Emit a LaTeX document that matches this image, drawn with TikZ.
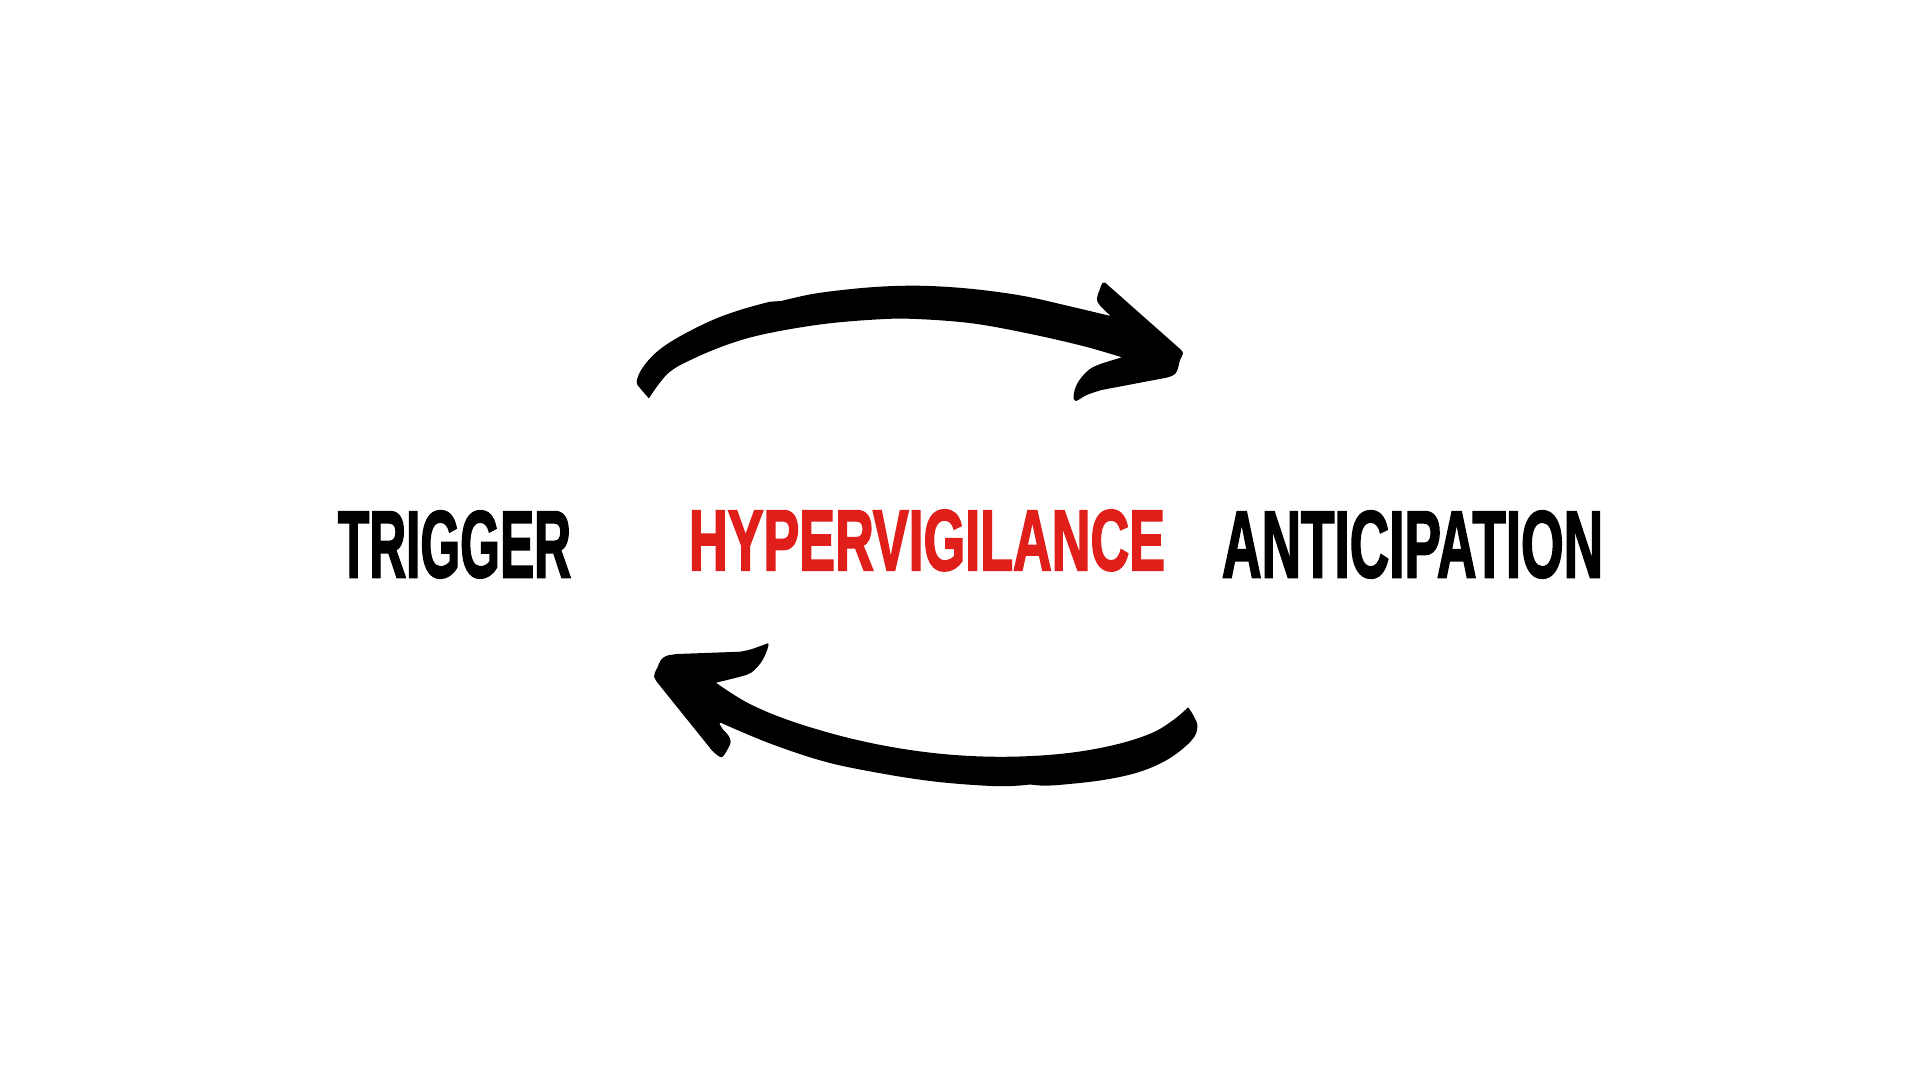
\documentclass[tikz,border=0pt]{standalone}
\usepackage{fontspec}
\usepackage{graphicx}
\setmainfont{Liberation Sans}[BoldFeatures={FakeBold=2.5}]
\definecolor{hvred}{RGB}{224,30,26}
\begin{document}
\begin{tikzpicture}[x=1pt,y=-1pt,
  word/.style={inner sep=0pt,outer sep=0pt,anchor=north west,font=\bfseries},
  brush/.style={fill=black,draw=none}]
\useasboundingbox[fill=white] (0,0) rectangle (1920,1080);
\node[word] (trigger) at (338,511) {\resizebox{233pt}{66pt}{TRIGGER}};
\node[word,text=hvred] (hyper) at (689,510) {\resizebox{476pt}{60pt}{HYPERVIGILANCE}};
\node[word] (antic) at (1222,511) {\resizebox{381pt}{66pt}{ANTICIPATION}};
% top arrow
\fill[brush] (648.9,398.3)
  -- plot[smooth,tension=0.6] coordinates {(648.9,398.3) (640,388) (636.7,381.7) (642.2,368.3) (657.0,351.7) (679.3,336.7) (712.6,320) (742.2,309.3) (770,301.7)}
  -- (781.1,301)
  -- plot[smooth,tension=0.6] coordinates {(781.1,301) (810.7,294.3) (842.2,290) (879.3,286.7) (916.3,285.7) (953.3,287.3) (990.4,291) (1027.4,296.7) (1064.4,305) (1110.7,316)}
  -- plot[smooth,tension=0.6] coordinates {(1110.7,316) (1099.6,305) (1097,298.3) (1099.6,290) (1102.2,283.3) (1105.2,282.7)}
  -- (1179.3,348.3)
  -- plot[smooth,tension=0.6] coordinates {(1179.3,348.3) (1183,353.3) (1180,360) (1177.4,370) (1173.7,375) (1166.3,377.7)}
  -- (1101.5,390)
  -- plot[smooth,tension=0.6] coordinates {(1101.5,390) (1086.7,395) (1075.6,401) (1073.7,395) (1077.4,383.3) (1086.7,371.7) (1097.8,365) (1121.9,357.3)}
  -- plot[smooth,tension=0.6] coordinates {(1121.9,357.3) (1083,346) (1027.4,333.3) (971.9,323.3) (916.3,319) (879.3,319.3) (823.7,324) (768.1,333.3) (731.1,343.3) (694.1,358.3) (668.1,373.3) (648.9,398.3)}
  -- cycle;
% bottom arrow
\fill[brush] (767.8,643.3)
  -- plot[smooth,tension=0.6] coordinates {(767.8,643.3) (751.1,649.3) (740,651.7)}
  -- (677,654)
  -- plot[smooth,tension=0.6] coordinates {(677,654) (665.9,656) (660.4,660.7) (657.8,666.7) (654.8,672.7) (654.1,676.7) (656.7,681.7)}
  -- (712.2,750.7)
  -- plot[smooth,tension=0.6] coordinates {(712.2,750.7) (719.6,756.7) (723.3,756) (728.1,748.3) (730.7,741.7) (728.1,735) (723.3,730) (719.6,724) (720.7,722.7)}
  -- plot[smooth,tension=0.6] coordinates {(720.7,722.7) (769.6,743.3) (825.2,761.7) (880.7,773.3) (936.3,781.7) (991.9,786) (1020,785.5)}
  -- (1030,784.5) -- (1040,785.5)
  -- plot[smooth,tension=0.6] coordinates {(1040,785.5) (1058.5,785) (1103,780) (1140,771.7) (1169.6,758.3) (1191.9,740) (1197.4,726.7) (1193.7,716) (1188.1,707.3)}
  -- plot[smooth,tension=0.6] coordinates {(1188.1,707.3) (1173.3,720) (1151.1,733.3) (1114.1,745) (1065.9,753.3) (1010.4,756.7) (954.8,755) (899.3,748.3) (843.7,736.7) (788.1,720) (747.4,702.7) (715.9,682.7)}
  -- plot[smooth,tension=0.6] coordinates {(715.9,682.7) (740,676.7) (751.1,672.7) (760.4,663.3) (765.9,653.3) (768.5,645) (767.8,643.3)}
  -- cycle;
\end{tikzpicture}
\end{document}
